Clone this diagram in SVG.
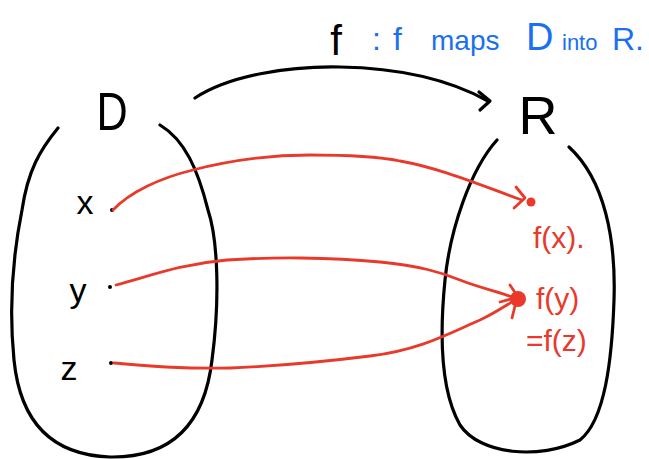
<svg xmlns="http://www.w3.org/2000/svg" width="649" height="459" viewBox="0 0 649 459">
<style>
.blk{fill:none;stroke:#000;stroke-width:3.2;stroke-linecap:round;stroke-linejoin:round}
.red{fill:none;stroke:#e8392b;stroke-width:2.8;stroke-linecap:round;stroke-linejoin:round}
.tb{font-family:"Liberation Sans","DejaVu Sans",sans-serif;fill:#000}
.tr{font-family:"Liberation Sans","DejaVu Sans",sans-serif;fill:#e8392b}
.tu{font-family:"Liberation Sans","DejaVu Sans",sans-serif;fill:#1a70f0}
</style>
<rect width="649" height="459" fill="#fff"/>
<g id="setD">
<path class="blk" d="M58,128 C40,150 28,170 22,210 C14,250 8,300 14,360 C20,420 50,455 110,457 C175,458 205,420 212,360 C220,300 218,240 208,210 C198,170 185,140 160,125"/>
<text class="tb" x="112" y="130" font-size="54" text-anchor="middle" transform="translate(112,0) scale(0.8,1) translate(-112,0)">D</text>
<text class="tb" x="85" y="214" font-size="34" text-anchor="middle">x</text>
<text class="tb" x="78" y="302" font-size="34" text-anchor="middle">y</text>
<text class="tb" x="69" y="380" font-size="34" text-anchor="middle">z</text>
<circle cx="112" cy="210" r="2" fill="#000"/>
<circle cx="110" cy="287" r="2" fill="#000"/>
<circle cx="111" cy="363" r="2" fill="#000"/>
</g>
<g id="setR">
<path class="blk" d="M497,140 C470,170 450,230 445,280 C440,330 440,390 460,425 C480,455 540,460 580,440 C605,420 612,360 614,300 C616,240 605,180 569,147"/>
<text class="tb" x="538" y="134" font-size="54" text-anchor="middle">R</text>
<circle cx="531" cy="202" r="4.5" fill="#e8392b"/>
<circle cx="518" cy="299" r="8" fill="#e8392b"/>
<text class="tr" x="533" y="248" font-size="30">f(x).</text>
<text class="tr" x="536" y="309" font-size="30">f(y)</text>
<text class="tr" x="526" y="351" font-size="30">=f(z)</text>
</g>
<g id="title">
<text class="tb" x="336" y="55" font-size="42" text-anchor="middle">f</text>
<text class="tu" y="50" font-size="32"><tspan x="372">:</tspan><tspan x="393">f</tspan><tspan x="431" font-size="28">maps</tspan><tspan x="526" font-size="38">D</tspan><tspan x="562" font-size="22">into</tspan><tspan x="612" font-size="32">R.</tspan></text>
</g>
<g id="connectors">
<path class="blk" d="M195,98 C230,75 290,66 340,67 C400,68 450,80 488,101"/>
<path class="blk" d="M479,92 L490,101 L480,110"/>
<path class="red" d="M113,210 C130,192 160,178 193,170 C240,158 280,155 310,155 C350,155 380,157 400,161 C440,168 480,185 522,200"/>
<path class="red" d="M516,187 L525,198 L514,208"/>
<path class="red" d="M116,285 C150,276 180,264 227,260 C270,257 330,257 380,262 C420,266 440,272 460,280 C480,288 500,292 515,298"/>
<path class="red" d="M510,285 L518,297 L500,302"/>
<path class="red" d="M114,363 C150,366 180,369 230,368 C280,366 330,361 370,356 C420,350 450,333 480,320 C495,313 505,306 515,300"/>
<path class="red" d="M512,318 L516,302"/>
</g>
</svg>
